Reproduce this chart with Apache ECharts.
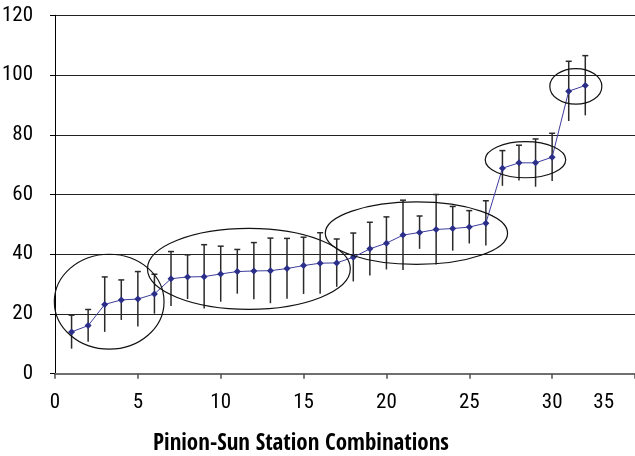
<!DOCTYPE html>
<html><head><meta charset="utf-8">
<script src="https://cdn.jsdelivr.net/npm/echarts@6/dist/echarts.min.js"></script>
<style>html,body{margin:0;padding:0;background:#fff}#c{width:635px;height:456px}</style>
</head><body><div id="c"></div>
<script>
const xs = [1,2,3,4,5,6,7,8,9,10,11,12,13,14,15,16,17,18,19,20,21,22,23,24,25,26,27,28,29,30,31,32];
const means = [14.0,16.1,23.2,24.7,25.0,26.7,31.8,32.4,32.5,33.4,34.2,34.4,34.5,35.2,36.2,37.0,37.1,39.0,41.8,43.7,46.4,47.3,48.3,48.6,49.1,50.4,68.8,70.6,70.6,72.5,94.6,96.5];
const errs = [5.6,5.4,9.2,6.7,9.2,6.6,9.1,7.4,10.7,9.3,7.4,9.5,10.9,10.1,9.5,10.2,8.0,8.1,8.9,8.8,11.7,5.5,11.7,7.4,5.5,7.5,5.9,5.9,8.0,8.0,10.0,10.0];
const ellipseCx = [3.27, 11.7, 21.81, 28.39, 31.43];
const ellipseCy = [24.1, 35.1, 47.05, 71.65, 96.2];
const ellipseRx = [3.31, 6.12, 5.5, 2.43, 1.57];
const ellipseRy = [15.9, 13.55, 10.45, 6.05, 5.97];
const xTicks = {min:0, max:35, interval:5};
const yTicks = {min:0, max:120, interval:20};
const xTitle = 'Pinion-Sun Station Combinations';

const FONT = '"Roboto Condensed","DejaVu Sans Condensed",sans-serif';
const TFONT = '"Open Sans Condensed","Roboto Condensed",sans-serif';
const chart = echarts.init(document.getElementById('c'));
const lineData = xs.map((x,i)=>[x, means[i]]);
const errData = xs.map((x,i)=>[x, means[i]-errs[i], means[i]+errs[i]]);
const ellData = ellipseCx.map((c,i)=>[c, ellipseCy[i], ellipseRx[i], ellipseRy[i]]);
chart.setOption({
  animation:false,
  title:{text:xTitle, left:296, top:427, textAlign:'center',
    textStyle:{fontFamily:TFONT, fontWeight:'bold', fontSize:23, color:'#000'}},
  grid:{left:55, right:0, top:15.3, bottom:82.3, containLabel:false, outerBoundsMode:'none'},
  xAxis:{type:'value', min:xTicks.min, max:xTicks.max, interval:xTicks.interval,
    axisLine:{lineStyle:{color:'#707070', width:2}},
    axisTick:{show:true, length:5, lineStyle:{color:'#505050', width:1.5}},
    axisLabel:{margin:19, fontFamily:FONT, fontSize:21, color:'#000',
      alignMaxLabel:'right',
      formatter:function(v){ return v===xTicks.max ? '{last|'+v+'}' : ''+v; },
      rich:{last:{fontFamily:FONT, fontSize:21, color:'#000', padding:[0,21,0,0]}}},
    splitLine:{show:false}},
  yAxis:{type:'value', min:yTicks.min, max:yTicks.max, interval:yTicks.interval,
    axisLine:{show:true, lineStyle:{color:'#000', width:1}},
    axisTick:{show:true, length:5, lineStyle:{color:'#000'}},
    axisLabel:{margin:22, fontFamily:FONT, fontSize:21, color:'#000'},
    splitLine:{show:true, lineStyle:{color:'#222', width:1}}},
  series:[
    {type:'custom', data:errData, z:3, renderItem:function(p, api){
      const x=api.value(0);
      const b=api.coord([x, api.value(1)]), t=api.coord([x, api.value(2)]);
      return {type:'group', children:[
        {type:'line', shape:{x1:t[0],y1:t[1],x2:b[0],y2:b[1]}, style:{stroke:'#2a2a2a', lineWidth:1.5}},
        {type:'line', shape:{x1:t[0]-3,y1:t[1],x2:t[0]+3,y2:t[1]}, style:{stroke:'#2a2a2a', lineWidth:1.5}}
      ]};
    }},
    {type:'line', data:lineData, z:4, symbol:'diamond', symbolSize:7,
      lineStyle:{color:'#3c3c9c', width:1}, itemStyle:{color:'#2b2f8a'}},
    {type:'custom', data:ellData, z:5, renderItem:function(p, api){
      const c=api.coord([api.value(0), api.value(1)]);
      const s=api.size([api.value(2), api.value(3)]);
      return {type:'ellipse', shape:{cx:c[0], cy:c[1], rx:s[0], ry:s[1]},
        style:{fill:null, stroke:'#111', lineWidth:1.2}};
    }}
  ]
});
</script></body></html>
